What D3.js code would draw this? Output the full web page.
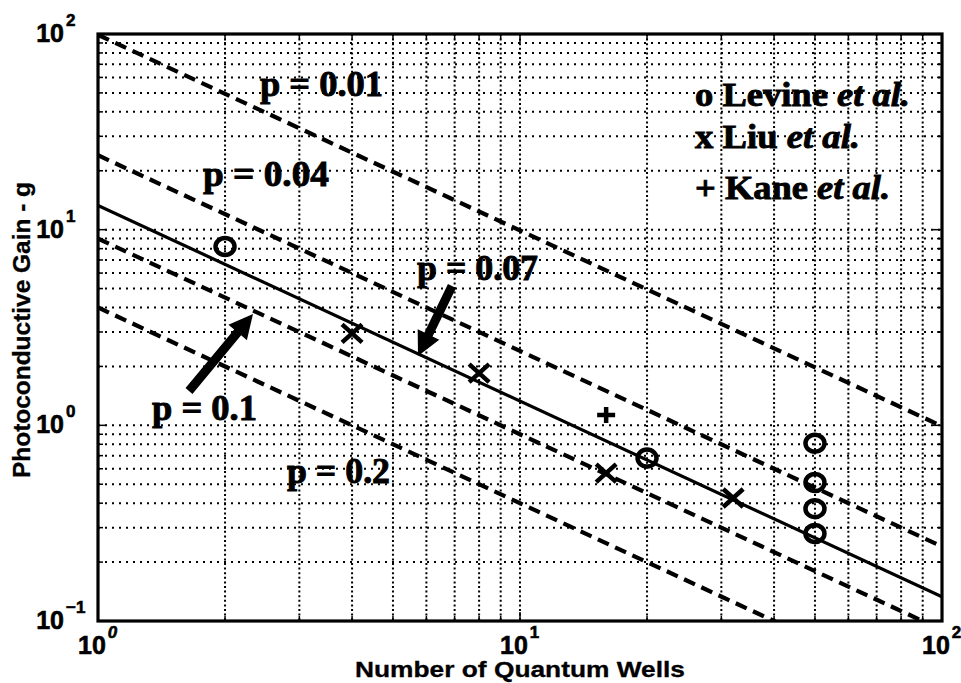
<!DOCTYPE html>
<html>
<head>
<meta charset="utf-8">
<script src="https://cdn.jsdelivr.net/npm/d3@7"></script>
<style>
  html, body { margin: 0; padding: 0; background: #fff; }
  svg { display: block; }
</style>
</head>
<body>
<svg id="chart" width="961" height="683"></svg>
<script>
// Measured photoconductive gain versus number of quantum wells
const levineN = [2, 20, 50, 50, 50, 50];
const levineG = [8.2, 0.68, 0.81, 0.51, 0.375, 0.28];
const liuN = [4, 8, 16, 32];
const liuG = [2.95, 1.85, 0.57, 0.425];
const kaneN = [16];
const kaneG = [1.13];

// Model lines g = (1 - p) / (p N): gain at N = 1 and N = 100 for each capture probability
const pValues = [0.01, 0.04, 0.07, 0.1, 0.2];
const lineN = [1, 100];
const gainAtN1 = [99, 24, 13.3, 9, 4];
const gainAtN100 = [0.99, 0.24, 0.133, 0.09, 0.04];
const pLabels = ["p = 0.01", "p = 0.04", "p = 0.07", "p = 0.1", "p = 0.2"];

const xTickExponents = [0, 1, 2];
const yTickExponents = [-1, 0, 1, 2];
const legendNames = ["Levine", "Liu", "Kane"];
const legendSymbols = ["o", "x", "+"];

const L = 98, R = 942, T = 34, B = 621;
const svg = d3.select("#chart");
const x = d3.scaleLog().domain([1, 100]).range([L, R]);
const y = d3.scaleLog().domain([0.1, 100]).range([B, T]);

const sans = "'Liberation Sans', Arial, Helvetica, sans-serif";
const serif = "'Liberation Serif', 'Times New Roman', serif";

svg.append("defs").append("clipPath").attr("id", "plot-clip")
  .append("rect").attr("x", L).attr("y", T).attr("width", R - L).attr("height", B - T);

// dotted grid at every decade subdivision
const gridG = svg.append("g");
gridG.selectAll("line.vgrid").data(x.ticks()).join("line")
  .attr("class", "vgrid")
  .attr("x1", d => x(d)).attr("x2", d => x(d))
  .attr("y1", T).attr("y2", B)
  .attr("stroke", "#000").attr("stroke-width", 2)
  .attr("stroke-dasharray", "2,2.6");
gridG.selectAll("line.hgrid").data(y.ticks()).join("line")
  .attr("class", "hgrid")
  .attr("x1", L).attr("x2", R)
  .attr("y1", d => y(d)).attr("y2", d => y(d))
  .attr("stroke", "#000").attr("stroke-width", 2)
  .attr("stroke-dasharray", "2,5");

// inward tick marks on all four sides
const isMajor = v => Math.abs(Math.log10(v) - Math.round(Math.log10(v))) < 1e-9;
const tickLen = v => isMajor(v) ? 9 : 5;
const ticksG = svg.append("g").attr("stroke", "#000").attr("stroke-width", 1.5);
[["bottom", B, -1], ["top", T, 1]].forEach(([k, yy, s]) => {
  ticksG.selectAll("line.tx" + k).data(x.ticks()).join("line")
    .attr("x1", d => x(d)).attr("x2", d => x(d))
    .attr("y1", yy).attr("y2", d => yy + s * tickLen(d));
});
[["left", L, 1], ["right", R, -1]].forEach(([k, xx, s]) => {
  ticksG.selectAll("line.ty" + k).data(y.ticks()).join("line")
    .attr("y1", d => y(d)).attr("y2", d => y(d))
    .attr("x1", xx).attr("x2", d => xx + s * tickLen(d));
});

// model lines
const plot = svg.append("g").attr("clip-path", "url(#plot-clip)");
const lineGen = d3.line().x(d => x(d[0])).y(d => y(d[1]));
pValues.forEach((p, i) => {
  const pts = [[lineN[0], gainAtN1[i]], [lineN[1], gainAtN100[i]]];
  plot.append("path")
    .attr("d", lineGen(pts))
    .attr("fill", "none")
    .attr("stroke", "#000")
    .attr("stroke-width", p === 0.07 ? 3.2 : 4.2)
    .attr("stroke-dasharray", p === 0.07 ? null : "12,7");
});

// data markers
const mk = svg.append("g").attr("stroke", "#000").attr("fill", "none").attr("stroke-width", 4.5);
mk.selectAll("ellipse").data(d3.zip(levineN, levineG)).join("ellipse")
  .attr("cx", d => x(d[0])).attr("cy", d => y(d[1]))
  .attr("rx", 9.5).attr("ry", 8.5);
mk.selectAll("path.liu").data(d3.zip(liuN, liuG)).join("path")
  .attr("class", "liu")
  .attr("d", d => {
    const cx = x(d[0]), cy = y(d[1]);
    return `M${cx - 10},${cy - 9}L${cx + 10},${cy + 9}M${cx - 10},${cy + 9}L${cx + 10},${cy - 9}`;
  });
mk.selectAll("path.kane").data(d3.zip(kaneN, kaneG)).join("path")
  .attr("class", "kane")
  .attr("d", d => {
    const cx = x(d[0]), cy = y(d[1]);
    return `M${cx - 9},${cy}L${cx + 9},${cy}M${cx},${cy - 8}L${cx},${cy + 8}`;
  });

// axes frame
svg.append("rect").attr("x", L).attr("y", T).attr("width", R - L).attr("height", B - T)
  .attr("fill", "none").attr("stroke", "#000").attr("stroke-width", 3.2);

// tick labels 10^n
const xl = svg.append("g").attr("font-family", sans).attr("font-weight", "bold").attr("fill", "#000")
  .attr("stroke", "#000").attr("stroke-width", 0.6);
xTickExponents.forEach(e => {
  const cx = x(Math.pow(10, e));
  const t = xl.append("text").attr("x", cx - 20).attr("y", 654).attr("font-size", 25);
  t.append("tspan").text("10");
  t.append("tspan").attr("dx", 2).attr("dy", -16).attr("font-size", 17)
    .attr("font-style", e === 0 ? "italic" : null).text(e);
});
yTickExponents.forEach(e => {
  const cy = y(Math.pow(10, e));
  xl.append("text").attr("x", 64).attr("y", cy + 8).attr("font-size", 25)
    .attr("text-anchor", "end").text("10");
  xl.append("text").attr("x", 66).attr("y", cy - 8).attr("font-size", 17)
    .text(e < 0 ? "\u2212" + Math.abs(e) : e);
});

// axis titles
svg.append("text")
  .attr("x", 520).attr("y", 677)
  .attr("text-anchor", "middle")
  .attr("font-family", sans).attr("font-weight", "bold").attr("font-size", 22)
  .attr("stroke", "#000").attr("stroke-width", 0.3)
  .attr("textLength", 330).attr("lengthAdjust", "spacingAndGlyphs")
  .text("Number of Quantum Wells");
svg.append("text")
  .attr("transform", "translate(30,330) rotate(-90)")
  .attr("text-anchor", "middle")
  .attr("font-family", sans).attr("font-weight", "bold").attr("font-size", 24)
  .attr("stroke", "#000").attr("stroke-width", 0.3)
  .attr("textLength", 296).attr("lengthAdjust", "spacingAndGlyphs")
  .text("Photoconductive Gain - g");

// line annotations
const annPos = [
  { x: 260, y: 96, w: 123 },
  { x: 203, y: 186, w: 126 },
  { x: 417, y: 280, w: 121 },
  { x: 152, y: 420, w: 105 },
  { x: 287, y: 483, w: 103 }
];
pLabels.forEach((s, i) => {
  svg.append("text")
    .attr("x", annPos[i].x).attr("y", annPos[i].y)
    .attr("font-family", serif).attr("font-weight", "bold").attr("font-size", 35)
    .attr("stroke", "#000").attr("stroke-width", 0.9)
    .attr("textLength", annPos[i].w).attr("lengthAdjust", "spacingAndGlyphs")
    .text(s);
});

// pointer arrows
function arrow(x0, y0, x1, y1) {
  const dx = x1 - x0, dy = y1 - y0, len = Math.hypot(dx, dy);
  const ux = dx / len, uy = dy / len, nx = -uy, ny = ux;
  const hl = 24, hw = 12, sw = 4.5;
  const bx = x1 - ux * hl, by = y1 - uy * hl;
  const pts = [
    [x0 + nx * sw, y0 + ny * sw], [bx + nx * sw, by + ny * sw], [bx + nx * hw, by + ny * hw],
    [x1, y1],
    [bx - nx * hw, by - ny * hw], [bx - nx * sw, by - ny * sw], [x0 - nx * sw, y0 - ny * sw]
  ];
  svg.append("path").attr("d", "M" + pts.map(p => p.join(",")).join("L") + "Z").attr("fill", "#000");
}
arrow(189, 391, 253, 314);
arrow(452, 286, 418, 356);

// legend
const legY = [106, 148, 199];
const legW = [215, 165, 195];
legendNames.forEach((n, i) => {
  const t = svg.append("text")
    .attr("x", 695).attr("y", legY[i])
    .attr("font-family", serif).attr("font-weight", "bold").attr("font-size", 34)
    .attr("stroke", "#000").attr("stroke-width", 0.9)
    .attr("textLength", legW[i]).attr("lengthAdjust", "spacingAndGlyphs");
  t.append("tspan").text(legendSymbols[i] + " " + n + " ");
  t.append("tspan").attr("font-style", "italic").text("et al.");
});
</script>
</body>
</html>
